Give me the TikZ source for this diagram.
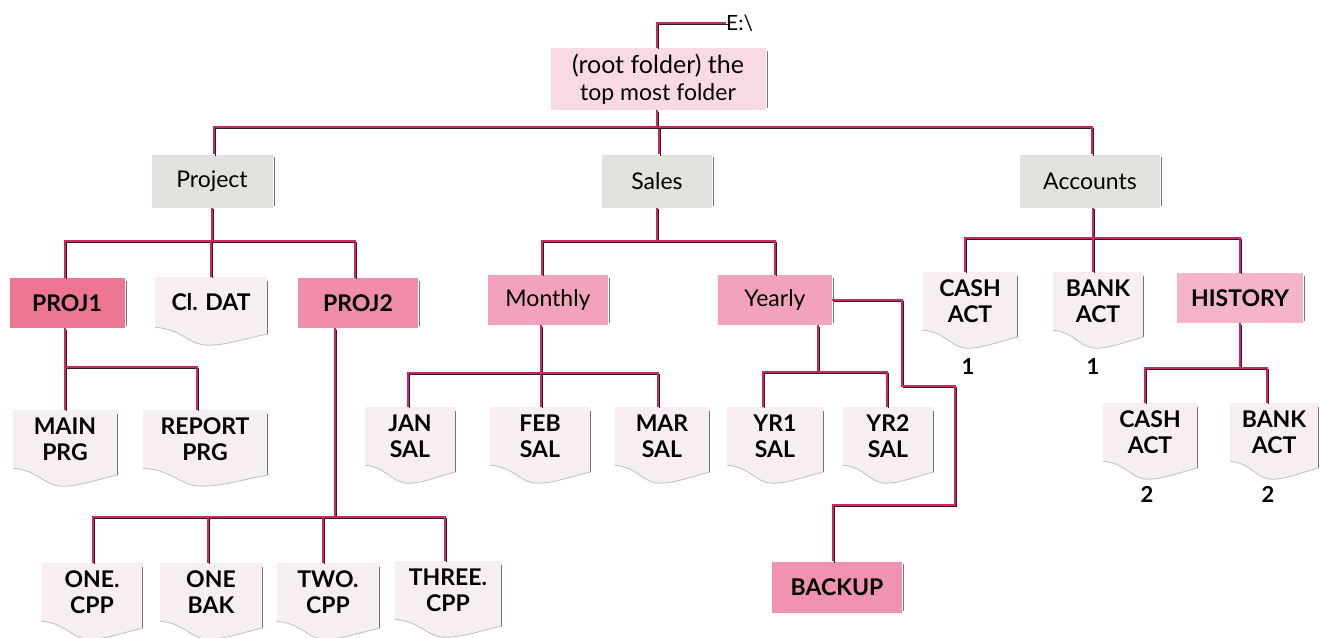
\documentclass[tikz,border=0pt]{standalone}
\usepackage{fontspec}
\setmainfont{Lato}
\usetikzlibrary{calc}
\definecolor{linkred}{HTML}{C92A5C}
\definecolor{linedark}{HTML}{3A1A22}
\definecolor{rootfill}{HTML}{F9DAE4}
\definecolor{grayfill}{HTML}{E3E1DD}
\definecolor{pinkA}{HTML}{EE7594}
\definecolor{pinkB}{HTML}{F08EAA}
\definecolor{pinkC}{HTML}{F2A3BB}
\definecolor{pinkD}{HTML}{F5B5C9}
\definecolor{pinkE}{HTML}{EF93B1}
\definecolor{filefill}{HTML}{F7EFEF}
\tikzset{
  conn/.style={draw=linkred, line width=2.4pt, line join=miter,
    preaction={draw=linedark, line width=0.9pt, transform canvas={xshift=1.5pt,yshift=-1.5pt}}},
  folder/.style={rectangle, inner sep=0pt, align=center, font=\fontsize{23}{27}\selectfont},
  filebody/.style={rectangle, fill=filefill, inner sep=0pt, align=center, font=\fontsize{23}{26}\selectfont\bfseries},
  edgeline/.style={draw=black!55, line width=1.3pt},
  waveline/.style={draw=black!25, line width=0.8pt},
  numlabel/.style={font=\fontsize{22}{26}\selectfont\bfseries, inner sep=1pt},
}
\newcommand\FileBox[6]{%
  \node[filebody, minimum width=#4, minimum height=#5] (#1) at (#2,#3) {#6};
  \fill[filefill] (#1.south west) .. controls ($(#1.south west)+(0.25*#4,2)$) and ($(#1.south west)+(0.3*#4,18)$) .. ($(#1.south west)+(0.48*#4,18)$) .. controls ($(#1.south west)+(0.65*#4,18)$) and ($(#1.south west)+(0.85*#4,10)$) .. ($(#1.south east)+(0,7)$) -- (#1.south east) -- cycle;
  \draw[waveline] (#1.south west) .. controls ($(#1.south west)+(0.25*#4,2)$) and ($(#1.south west)+(0.3*#4,18)$) .. ($(#1.south west)+(0.48*#4,18)$) .. controls ($(#1.south west)+(0.65*#4,18)$) and ($(#1.south west)+(0.85*#4,10)$) .. ($(#1.south east)+(0,7)$);
  \draw[edgeline] ($(#1.north east)+(0,4)$) -- ($(#1.south east)+(0,7)$);
}
\newcommand\FolderBox[7]{%
  \node[folder, fill=#6, minimum width=#4, minimum height=#5] (#1) at (#2,#3) {#7};
  \draw[edgeline] ($(#1.north east)+(1.5,3)$) -- ($(#1.south east)+(1.5,-2)$);
}
\begin{document}
\begin{tikzpicture}[x=1pt,y=-1pt]
\useasboundingbox[fill=white] (0,0) rectangle (1321,637);

% folders
\FolderBox{root}{658}{79}{215}{62}{rootfill}{\fontsize{25}{29}\selectfont(root folder) the\\top most folder}
\node[folder, anchor=west] (eroot) at (726,23) {\fontsize{21}{25}\selectfont E:\textbackslash};
\FolderBox{project}{212}{181}{121}{53}{grayfill}{Project}
\FolderBox{sales}{657}{181}{110}{53}{grayfill}{Sales}
\FolderBox{accounts}{1090}{181}{140}{53}{grayfill}{Accounts}
\FolderBox{proj1}{67}{303}{115}{50}{pinkA}{\bfseries PROJ1}
\FolderBox{proj2}{358}{303}{120}{50}{pinkB}{\bfseries PROJ2}
\FolderBox{monthly}{548}{300}{120}{50}{pinkC}{Monthly}
\FolderBox{yearly}{775}{300}{114}{50}{pinkC}{Yearly}
\FolderBox{history}{1240}{298}{126}{50}{pinkD}{\bfseries HISTORY}
\FolderBox{backup}{837}{587}{130}{51}{pinkE}{\bfseries BACKUP}

% files
\FileBox{cldat}{211}{302}{112}{50}{Cl. DAT}
\FileBox{mainprg}{65}{439}{104}{58}{MAIN\\PRG}
\FileBox{reportprg}{205}{439}{124}{58}{REPORT\\PRG}
\FileBox{jansal}{410}{436}{90}{58}{JAN\\SAL}
\FileBox{febsal}{540}{436}{100}{58}{FEB\\SAL}
\FileBox{marsal}{662}{436}{95}{58}{MAR\\SAL}
\FileBox{yrone}{775}{436}{96}{58}{YR1\\SAL}
\FileBox{yrtwo}{888}{436}{90}{58}{YR2\\SAL}
\FileBox{onecpp}{92}{592}{101}{58}{ONE.\\CPP}
\FileBox{onebak}{211}{592}{102}{58}{ONE\\BAK}
\FileBox{twocpp}{328}{592}{103}{58}{TWO.\\CPP}
\FileBox{threecpp}{448}{590}{107}{58}{THREE.\\CPP}
\FileBox{cashone}{970}{301}{94}{58}{CASH\\ACT}
\FileBox{bankone}{1098}{301}{90}{58}{BANK\\ACT}
\FileBox{cashtwo}{1150}{432}{94}{58}{CASH\\ACT}
\FileBox{banktwo}{1274}{432}{88}{58}{BANK\\ACT}

\node[numlabel] (numa) at (968,367) {1};
\node[numlabel] (numb) at (1093,367) {1};
\node[numlabel] (numc) at (1147,494) {2};
\node[numlabel] (numd) at (1268,494) {2};

% connectors
\draw[conn] ([xshift=-1pt]root.north) |- (eroot.west);
\foreach \c in {project,sales,accounts}
  \draw[conn] ([xshift=-1pt]root.south) -- ([xshift=-1pt]root.south |- 0,127) -| ([xshift=2pt]\c.north);

\foreach \c/\s in {proj1/-2,cldat/0,proj2/-3}
  \draw[conn] (project.south) -- (project.south |- 0,241) -| ([xshift=\s pt]\c.north);

\foreach \c/\s in {mainprg/0,reportprg/-8}
  \draw[conn] ([xshift=-2pt]proj1.south) -- ([xshift=-2pt]proj1.south |- 0,367) -| ([xshift=\s pt]\c.north);

\foreach \c/\s in {onecpp/1,onebak/-3,twocpp/-5,threecpp/-3}
  \draw[conn] ([xshift=-23pt]proj2.south) -- ([xshift=-23pt]proj2.south |- 0,517) -| ([xshift=\s pt]\c.north);

\foreach \c/\s in {monthly/-6,yearly/0}
  \draw[conn] (sales.south) -- (sales.south |- 0,241) -| ([xshift=\s pt]\c.north);

\foreach \c/\s in {jansal/-2,febsal/1,marsal/-4}
  \draw[conn] ([xshift=-7pt]monthly.south) -- ([xshift=-7pt]monthly.south |- 0,373) -| ([xshift=\s pt]\c.north);

\foreach \c/\s in {yrone/-12,yrtwo/-1}
  \draw[conn] ([xshift=43pt]yearly.south) -- ([xshift=43pt]yearly.south |- 0,372) -| ([xshift=\s pt]\c.north);

\draw[conn] (yearly.east) -| (902,386) -- (955,386) |- ([xshift=-4pt]backup.north |- 0,505) -- ([xshift=-4pt]backup.north);

\foreach \c/\s in {cashone/-5,bankone/-5,history/0}
  \draw[conn] ([xshift=3pt]accounts.south) -- ([xshift=3pt]accounts.south |- 0,238) -| ([xshift=\s pt]\c.north);

\foreach \c/\s in {cashtwo/-5,banktwo/-7}
  \draw[conn] (history.south) -- (history.south |- 0,368) -| ([xshift=\s pt]\c.north);
\end{tikzpicture}
\end{document}
